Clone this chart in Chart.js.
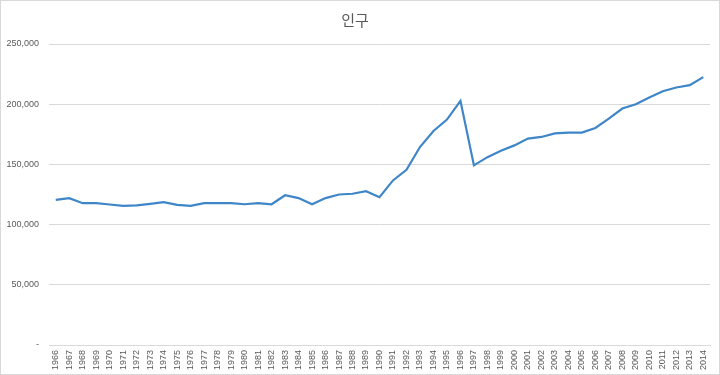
<!DOCTYPE html>
<html><head><meta charset="utf-8">
<script src="https://cdn.jsdelivr.net/npm/chart.js@4/dist/chart.umd.min.js"></script>
<style>html,body{margin:0;padding:0;background:#fff}#wrap{width:720px;height:375px;position:relative}</style>
</head><body><div id="wrap"><canvas id="c" width="720" height="375"></canvas></div>
<script>
const years = ['1966','1967','1968','1969','1970','1971','1972','1973','1974','1975','1976','1977','1978','1979','1980','1981','1982','1983','1984','1985','1986','1987','1988','1989','1990','1991','1992','1993','1994','1995','1996','1997','1998','1999','2000','2001','2002','2003','2004','2005','2006','2007','2008','2009','2010','2011','2012','2013','2014'];
const population = [120600,122000,117800,117800,116700,115600,116000,117200,118600,116400,115600,117800,117800,117800,116900,117800,116900,124400,122000,116900,122000,125000,125600,127800,122800,136700,145500,164400,177800,187200,202800,149200,156000,161400,165800,171400,172800,175800,176400,176400,180300,188000,196400,200000,205600,210800,213900,215800,222500];
const seriesName = '인구';
const yTicks = [0,50000,100000,150000,200000,250000];

const borderPlugin = {id:'border', afterDraw(chart){const c=chart.ctx;c.save();c.strokeStyle='#d9d9d9';c.lineWidth=1;c.strokeRect(0.5,0.5,chart.width-1,chart.height-1);c.restore();}};

new Chart(document.getElementById('c'), {
  type:'line',
  data:{labels:years, datasets:[{label:seriesName,data:population,borderColor:'#3E86C8',backgroundColor:'#3E86C8',borderWidth:2.2,pointRadius:0,tension:0,fill:false}]},
  options:{
    responsive:false, animation:false,
    layout:{padding:{left:0,right:10,top:1,bottom:4}},
    plugins:{
      legend:{display:false}, tooltip:{enabled:false},
      title:{display:true,text:seriesName,color:'#595959',font:{family:'"Noto Sans CJK KR", "Noto Sans", sans-serif',size:15,weight:'normal'},padding:{top:10,bottom:15}}
    },
    scales:{
      x:{offset:true,grid:{display:false,drawTicks:false},border:{display:true,color:'#d9d9d9',width:1},
         ticks:{autoSkip:false,maxRotation:90,minRotation:90,padding:5,color:'#595959',font:{family:'"Liberation Sans", sans-serif',size:9}},
         afterFit(a){a.height=26;}},
      y:{min:0,max:250000,afterBuildTicks(a){a.ticks=yTicks.map(v=>({value:v}));},
         grid:{color:'#d9d9d9',drawTicks:false},border:{display:false},
         ticks:{padding:10,color:'#595959',font:{family:'"Liberation Sans", sans-serif',size:9},callback:v=>v===0?'-':v.toLocaleString('en-US')},
         afterFit(a){a.width=49;}}
    }
  },
  plugins:[borderPlugin]
});
</script></body></html>
